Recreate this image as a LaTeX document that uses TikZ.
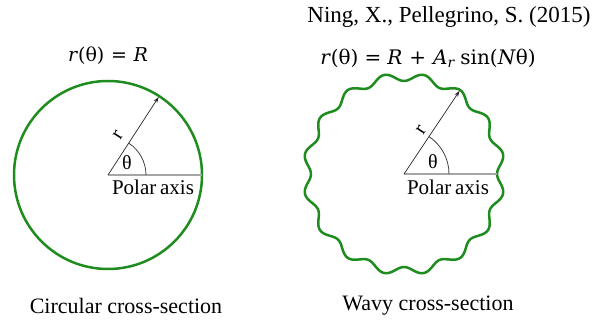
\documentclass[tikz,border=0pt]{standalone}
\usepackage{fontspec}
\setmainfont{Liberation Serif}
\newfontfamily\mathlike{DejaVu Serif}
\usetikzlibrary{arrows.meta,calc}
\definecolor{ringgreen}{RGB}{30,140,30}
\definecolor{axisgray}{RGB}{165,165,165}
\tikzset{
  ring/.style={draw=ringgreen, line width=2.5pt},
  radius arrow/.style={draw=black!85, line width=0.7pt, -{Stealth[length=6pt,width=4pt]}},
  polar line/.style={draw=axisgray, line width=1.2pt},
  angle arc/.style={draw=black!75, line width=0.8pt},
  lbl/.style={inner sep=0pt, font=\fontsize{20}{24}\selectfont},
  axislbl/.style={inner sep=0pt, font=\fontsize{21}{24}\selectfont},
  caption/.style={inner sep=0pt, font=\fontsize{22}{26}\selectfont},
  reftext/.style={inner sep=0pt, font=\fontsize{23}{27}\selectfont},
  formula/.style={inner sep=0pt, font=\mathlike\fontsize{19}{23}\selectfont},
  bigformula/.style={inner sep=0pt, font=\mathlike\fontsize{20}{24}\selectfont},
}
\begin{document}
\begin{tikzpicture}[x=1pt,y=1pt]
\useasboundingbox (0,0) rectangle (592,324);
% ---------- left: circular ----------
\coordinate (c1) at (108,149);
\draw[ring] (c1) circle[radius=94];
\coordinate (t1) at ($(c1)+(57:93)$);
\coordinate (e1) at ($(c1)+(94,0)$);
\draw[polar line] (c1) -- (e1);
\draw[angle arc] ($(c1)+(38,0)$) arc[start angle=0, end angle=57, radius=38];
\draw[radius arrow] (c1) -- (t1);
\node[lbl] (th1) at (127,161) {θ};
\node[lbl, rotate=57] (r1) at (118,189) {r};
\node[axislbl] (pa1) at (153,137) {Polar\hspace{0.18em}axis};
\node[formula] (f1) at (108,268) {\textit{r}(θ)\hspace{0.35em}=\hspace{0.35em}\textit{R}};
\node[caption] (cap1) at (126,18) {Circular cross-section};
% ---------- right: wavy ----------
\coordinate (c2) at (404,150);
\draw[ring, line join=round] plot[domain=0:360, samples=361, smooth, variable=\t]
  ({404+cos(\t)*(97-4*cos(16*\t))}, {150+sin(\t)*(97-4*cos(16*\t))}) -- cycle;
\coordinate (t2) at ($(c2)+(56.25:100)$);
\coordinate (e2) at ($(c2)+(93,0)$);
\draw[polar line] (c2) -- (e2);
\draw[angle arc] ($(c2)+(45,0)$) arc[start angle=0, end angle=56.25, radius=45];
\draw[radius arrow] (c2) -- (t2);
\node[lbl] (th2) at (433,162) {θ};
\node[lbl, rotate=56] (r2) at (421,194) {r};
\node[axislbl] (pa2) at (448,137) {Polar\hspace{0.18em}axis};
\node[bigformula] (f2) at (428,266) {\textit{r}(θ)\hspace{0.3em}=\hspace{0.3em}\textit{R}\hspace{0.35em}+\hspace{0.35em}\textit{A}\textsubscript{\textit{r}}\hspace{0.25em}sin(\textit{N}θ)};
\node[reftext] (ref) at (449,307) {Ning, X., Pellegrino, S. (2015)};
\node[caption] (cap2) at (428,18) {Wavy cross-section};
\end{tikzpicture}
\end{document}
